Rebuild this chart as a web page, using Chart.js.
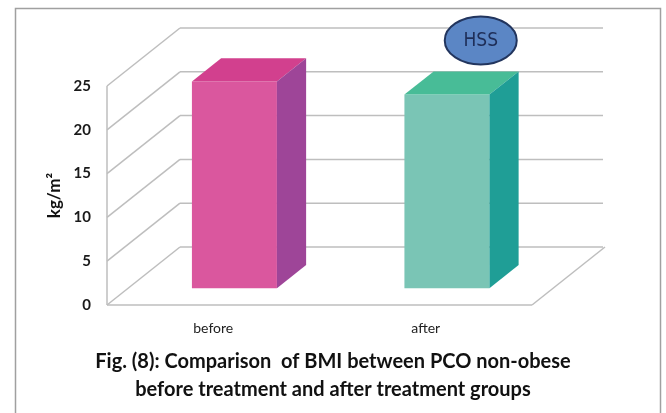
<!DOCTYPE html>
<html><head><meta charset="utf-8">
<script src="https://cdn.jsdelivr.net/npm/chart.js@4.4.0/dist/chart.umd.min.js"></script>
<style>html,body{margin:0;padding:0;background:#fff;}canvas{display:block;}</style>
</head><body>
<canvas id="c" width="666" height="413"></canvas>
<script>
// ---- data ----
const categories = ['before', 'after'];
const bmiValues = [23.6, 22.1];
const yTitle = 'kg/m²';
const captionLines = ['Fig. (8): Comparison  of BMI between PCO non-obese', 'before treatment and after treatment groups'];
const significanceLabel = 'HSS';

// ---- styles ----
const frontColors = ['#DA579E', '#7AC5B5'];
const topColors = ['#D2408E', '#48BC97'];
const sideColors = ['#9E4598', '#1F9E96'];
const DX = 73, DY = -58;      // full depth offset of the 3D box
const F0 = 0.29, F1 = 0.69;   // bar depth (front / back) as a fraction of the box depth

function line(ctx, x1, y1, x2, y2) { ctx.beginPath(); ctx.moveTo(x1, y1); ctx.lineTo(x2, y2); ctx.stroke(); }
function poly(ctx, pts, color) {
  ctx.beginPath(); ctx.moveTo(pts[0][0], pts[0][1]);
  for (let i = 1; i < pts.length; i++) ctx.lineTo(pts[i][0], pts[i][1]);
  ctx.closePath(); ctx.fillStyle = color; ctx.fill();
}

const threeD = {
  id: 'threeD',
  beforeDraw(chart) {
    const ctx = chart.ctx;
    ctx.save();
    ctx.fillStyle = '#fff'; ctx.fillRect(0, 0, chart.width, chart.height);
    ctx.strokeStyle = '#a0a0a0'; ctx.lineWidth = 1.5;
    ctx.strokeRect(15.5, 8.5, 645, 430);
    ctx.restore();
  },
  beforeDatasetsDraw(chart) {
    const ctx = chart.ctx, y = chart.scales.y, a = chart.chartArea;
    ctx.save();
    ctx.strokeStyle = '#BEBEBE'; ctx.lineWidth = 1.5;
    y.ticks.forEach(t => {
      const py = y.getPixelForValue(t.value);
      line(ctx, a.left + DX, py + DY, a.right + DX - 2, py + DY);
      line(ctx, a.left, py, a.left + DX, py + DY);
    });
    line(ctx, a.left, a.top, a.left, a.bottom);
    line(ctx, a.left, a.bottom, a.right, a.bottom);
    line(ctx, a.right, a.bottom, a.right + DX, a.bottom + DY);
    ctx.restore();
  },
  beforeDatasetDraw(chart) {
    chart.ctx.save();
    chart.ctx.translate(F0 * DX, F0 * DY);
  },
  afterDatasetDraw(chart, args) {
    const ctx = chart.ctx;
    ctx.restore();
    const meta = args.meta;
    const ox = F0 * DX, oy = F0 * DY, bx = (F1 - F0) * DX, by = (F1 - F0) * DY;
    meta.data.forEach((el, i) => {
      const p = el.getProps(['x', 'y', 'base', 'width'], true);
      const l = p.x - p.width / 2 + ox, r = p.x + p.width / 2 + ox;
      const t = p.y + oy, b = p.base + oy;
      poly(ctx, [[l, t], [r, t], [r + bx, t + by], [l + bx, t + by]], topColors[i]);
      poly(ctx, [[r, t], [r + bx, t + by], [r + bx, b + by], [r, b]], sideColors[i]);
    });
  },
  afterDraw(chart) {
    const ctx = chart.ctx;
    const meta = chart.getDatasetMeta(0);
    const el = meta.data[1].getProps(['x', 'y'], true);
    const cx = el.x + 55, cy = el.y - 71;
    ctx.save();
    ctx.beginPath(); ctx.ellipse(cx, cy, 36, 24, 0, 0, Math.PI * 2);
    ctx.fillStyle = '#5B86C5'; ctx.fill();
    ctx.strokeStyle = '#22355E'; ctx.lineWidth = 2; ctx.stroke();
    ctx.fillStyle = '#1E2E58'; ctx.font = '19px "Liberation Sans Narrow", "DejaVu Sans Condensed", sans-serif';
    ctx.textAlign = 'center'; ctx.textBaseline = 'middle';
    ctx.fillText(significanceLabel, cx, cy + 1);
    ctx.fillStyle = '#111'; ctx.font = 'bold 20px Lato, "Open Sans", sans-serif';
    ctx.fillText(captionLines[0], 333, 362);
    ctx.fillText(captionLines[1], 333, 390);
    ctx.restore();
  }
};

new Chart(document.getElementById('c'), {
  type: 'bar',
  data: {
    labels: categories,
    datasets: [{
      data: bmiValues,
      backgroundColor: frontColors,
      borderWidth: 0,
      barPercentage: 0.4,
      categoryPercentage: 1,
      clip: false
    }]
  },
  options: {
    responsive: false,
    animation: false,
    devicePixelRatio: 1,
    layout: { padding: { top: 86, right: 134, left: 0, bottom: 0 } },
    plugins: { legend: { display: false }, tooltip: { enabled: false }, title: { display: false } },
    scales: {
      x: {
        grid: { display: false, drawTicks: false },
        border: { display: false },
        ticks: { padding: 15, color: '#222', font: { family: 'Lato', size: 14 } },
        afterFit(s) { s.height = 108; }
      },
      y: {
        min: 0, max: 25,
        grid: { display: false, drawTicks: false },
        border: { display: false },
        ticks: { stepSize: 5, padding: 16, color: '#1a1a1a', font: { family: 'Lato', size: 15, weight: 'bold' } },
        title: { display: true, text: yTitle, color: '#111', font: { family: 'Lato', size: 17, weight: 'bold' }, padding: { top: 44, bottom: 0 } },
        afterFit(s) { s.width = 107; }
      }
    }
  },
  plugins: [threeD]
});
</script>
</body></html>
